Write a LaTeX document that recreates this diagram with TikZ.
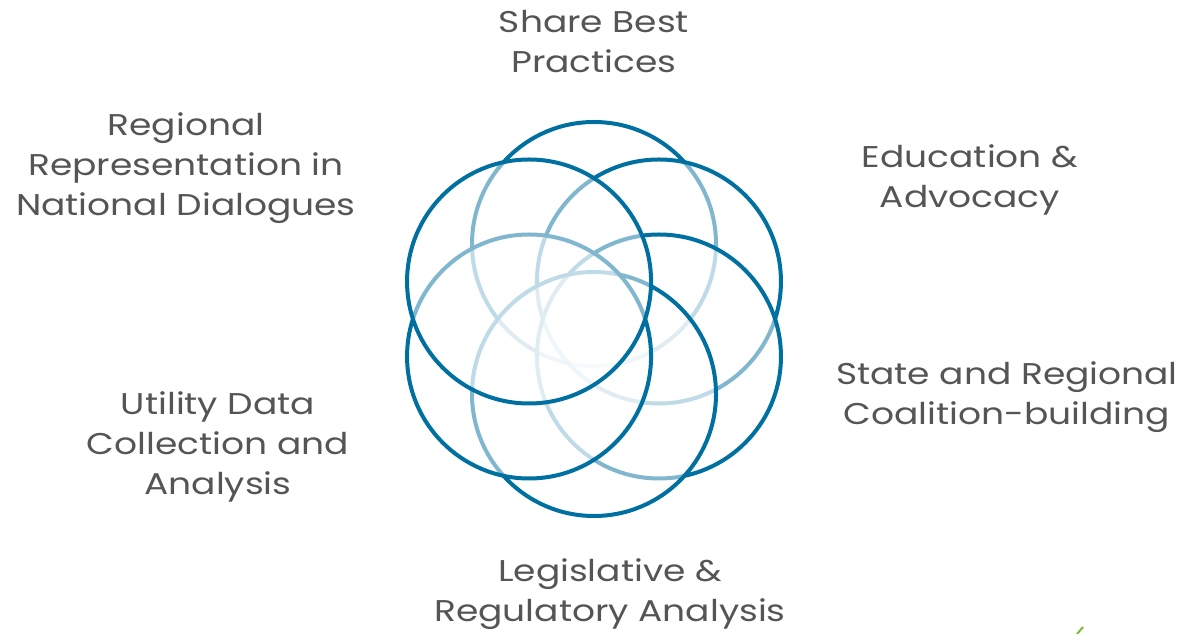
\documentclass[tikz,border=0pt]{standalone}
\usepackage{fontspec}
\setmainfont{Poppins}[FakeStretch=1.2]
\definecolor{ringblue}{RGB}{0,112,160}
\definecolor{labelgray}{RGB}{85,85,85}
\definecolor{leafgreen}{RGB}{120,190,50}

\tikzstyle{every path} = [line width=4pt]
\tikzstyle{ring} = [draw=ringblue, fill=white, fill opacity=0.5, draw opacity=1]
\tikzstyle{lbl} = [text=labelgray, align=center, font=\fontsize{30}{40}\selectfont]

\begin{document}
\begin{tikzpicture}[x=1pt,y=1pt]
    \useasboundingbox (0,0) rectangle (1188,634);
    \coordinate (ctr) at (594,315);

    % Rings, drawn clockwise from the top
    \foreach \a in {90, 30, -30, -90, -150, 150} {
        \draw[ring] ([shift={(\a:75)}]ctr) circle (122pt);
    }

    % Labels
    \node[lbl] (share) at (594,592) {Share Best\\Practices};
    \node[lbl] (education) at (970,454) {Education \&\\Advocacy};
    \node[lbl] (coalition) at (1007,237) {State and Regional\\Coalition-building};
    \node[lbl] (legislative) at (610,40) {Legislative \&\\Regulatory Analysis};
    \node[lbl] (utility) at (218,187) {Utility Data\\Collection and\\Analysis};
    \node[lbl] (regional) at (186,466) {Regional\\Representation in\\National Dialogues};

    % Logo corner
    \draw[leafgreen, line width=2pt] (1077,0) -- (1083,7);
\end{tikzpicture}
\end{document}
